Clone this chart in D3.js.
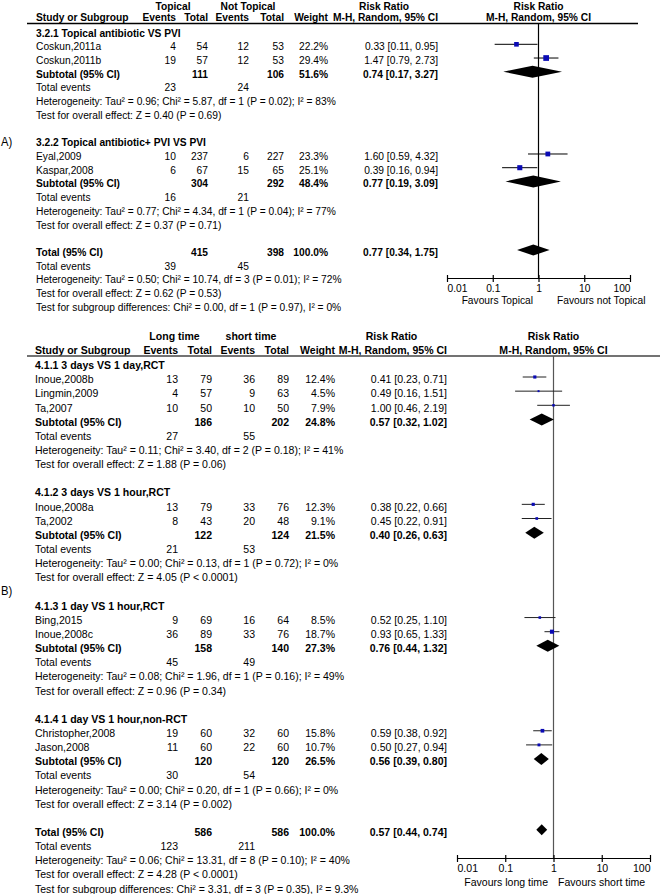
<!DOCTYPE html>
<html><head><meta charset="utf-8">
<script src="https://cdn.jsdelivr.net/npm/d3@7"></script>
<style>
body{margin:0;background:#fff}
svg{display:block}
text{font-family:"Liberation Sans", Arial, Helvetica, sans-serif;}
</style>
</head><body>
<svg id="c" width="660" height="894"></svg>
<script>
// ---------------- DATA ----------------
const tickValues = [0.01, 0.1, 1, 10, 100];
const tickLabels = ["0.01", "0.1", "1", "10", "100"];

// Panel A
const headersA = ["Topical", "Not Topical"];
const favoursA = ["Favours Topical", "Favours not Topical"];
const groupsA = ["3.2.1 Topical antibiotic VS PVI", "3.2.2 Topical antibiotic+ PVI VS PVI"];
const studiesA = [
  {g:0, name:"Coskun,2011a", e1:4,  n1:54,  e2:12, n2:53,  w:22.2, rr:0.33, lo:0.11, hi:0.95},
  {g:0, name:"Coskun,2011b", e1:19, n1:57,  e2:12, n2:53,  w:29.4, rr:1.47, lo:0.79, hi:2.73},
  {g:1, name:"Eyal,2009",    e1:10, n1:237, e2:6,  n2:227, w:23.3, rr:1.60, lo:0.59, hi:4.32},
  {g:1, name:"Kaspar,2008",  e1:6,  n1:67,  e2:15, n2:65,  w:25.1, rr:0.39, lo:0.16, hi:0.94}
];
const subtotalsA = [
  {n1:111, n2:106, w:51.6, rr:0.74, lo:0.17, hi:3.27, ev1:23, ev2:24,
   het:"Tau² = 0.96; Chi² = 5.87, df = 1 (P = 0.02); I² = 83%", z:"Z = 0.40 (P = 0.69)"},
  {n1:304, n2:292, w:48.4, rr:0.77, lo:0.19, hi:3.09, ev1:16, ev2:21,
   het:"Tau² = 0.77; Chi² = 4.34, df = 1 (P = 0.04); I² = 77%", z:"Z = 0.37 (P = 0.71)"}
];
const totalA = {n1:415, n2:398, w:100.0, rr:0.77, lo:0.34, hi:1.75, ev1:39, ev2:45,
  het:"Tau² = 0.50; Chi² = 10.74, df = 3 (P = 0.01); I² = 72%", z:"Z = 0.62 (P = 0.53)",
  sub:"Chi² = 0.00, df = 1 (P = 0.97), I² = 0%"};

// Panel B
const headersB = ["Long time", "short time"];
const favoursB = ["Favours long time", "Favours short time"];
const groupsB = ["4.1.1 3 days VS 1 day,RCT", "4.1.2 3 days VS 1 hour,RCT", "4.1.3 1 day VS 1 hour,RCT", "4.1.4 1 day VS 1 hour,non-RCT"];
const studiesB = [
  {g:0, name:"Inoue,2008b",      e1:13, n1:79, e2:36, n2:89, w:12.4, rr:0.41, lo:0.23, hi:0.71},
  {g:0, name:"Lingmin,2009",     e1:4,  n1:57, e2:9,  n2:63, w:4.5,  rr:0.49, lo:0.16, hi:1.51},
  {g:0, name:"Ta,2007",          e1:10, n1:50, e2:10, n2:50, w:7.9,  rr:1.00, lo:0.46, hi:2.19},
  {g:1, name:"Inoue,2008a",      e1:13, n1:79, e2:33, n2:76, w:12.3, rr:0.38, lo:0.22, hi:0.66},
  {g:1, name:"Ta,2002",          e1:8,  n1:43, e2:20, n2:48, w:9.1,  rr:0.45, lo:0.22, hi:0.91},
  {g:2, name:"Bing,2015",        e1:9,  n1:69, e2:16, n2:64, w:8.5,  rr:0.52, lo:0.25, hi:1.10},
  {g:2, name:"Inoue,2008c",      e1:36, n1:89, e2:33, n2:76, w:18.7, rr:0.93, lo:0.65, hi:1.33},
  {g:3, name:"Christopher,2008", e1:19, n1:60, e2:32, n2:60, w:15.8, rr:0.59, lo:0.38, hi:0.92},
  {g:3, name:"Jason,2008",       e1:11, n1:60, e2:22, n2:60, w:10.7, rr:0.50, lo:0.27, hi:0.94}
];
const subtotalsB = [
  {n1:186, n2:202, w:24.8, rr:0.57, lo:0.32, hi:1.02, ev1:27, ev2:55,
   het:"Tau² = 0.11; Chi² = 3.40, df = 2 (P = 0.18); I² = 41%", z:"Z = 1.88 (P = 0.06)"},
  {n1:122, n2:124, w:21.5, rr:0.40, lo:0.26, hi:0.63, ev1:21, ev2:53,
   het:"Tau² = 0.00; Chi² = 0.13, df = 1 (P = 0.72); I² = 0%", z:"Z = 4.05 (P < 0.0001)"},
  {n1:158, n2:140, w:27.3, rr:0.76, lo:0.44, hi:1.32, ev1:45, ev2:49,
   het:"Tau² = 0.08; Chi² = 1.96, df = 1 (P = 0.16); I² = 49%", z:"Z = 0.96 (P = 0.34)"},
  {n1:120, n2:120, w:26.5, rr:0.56, lo:0.39, hi:0.80, ev1:30, ev2:54,
   het:"Tau² = 0.00; Chi² = 0.20, df = 1 (P = 0.66); I² = 0%", z:"Z = 3.14 (P = 0.002)"}
];
const totalB = {n1:586, n2:586, w:100.0, rr:0.57, lo:0.44, hi:0.74, ev1:123, ev2:211,
  het:"Tau² = 0.06; Chi² = 13.31, df = 8 (P = 0.10); I² = 40%", z:"Z = 4.28 (P < 0.0001)",
  sub:"Chi² = 3.31, df = 3 (P = 0.35), I² = 9.3%"};

// ---------------- LAYOUT ----------------
const cfgA = {label:"A)", labelRow:8, y0:30.6, pitch:13.71, base:6.0, fs:11, sx:0.93,
  xName:36, xE1:176, xN1:208, xE2:249, xN2:284, xW:328, xRR:438, rrH1:384,
  hdr1:[173, 248], h1y:9.6, h2y:20.6, lineX:[27,638], lineY:23.5,
  plot:[447,630], axisY:278, tickDy:14, favY:304, favEnd:533, favStart:557,
  lineColor:"#000", nullColor:"#000", ciColor:"#000"};
const cfgB = {label:"B)", labelRow:16, y0:362.85, pitch:14.15, base:6.2, fs:11.35, sx:0.93,
  xName:35, xE1:178, xN1:212, xE2:255, xN2:289, xW:335, xRR:447, rrH1:391.5,
  hdr1:[174.5, 251], h1y:340, h2y:353.5, lineX:[27,660], lineY:356,
  plot:[457,650], axisY:858, tickDy:14, favY:886, favEnd:548, favStart:558,
  lineColor:"#444", nullColor:"#555", ciColor:"#222"};

const svg = d3.select("#c");
const FONT = '"Liberation Sans", Arial, Helvetica, sans-serif';
const SQ = "#0a0ab4";

function T(g, x, y, s, o) {
  return g.append("text")
    .attr("transform", `translate(${x},${y}) scale(${o.sx},1)`)
    .attr("text-anchor", o.anchor || "start")
    .attr("font-size", o.fs)
    .attr("font-weight", o.bold ? "bold" : "normal")
    .attr("fill", "#000")
    .text(s);
}
const rrText = d => `${d.rr.toFixed(2)} [${d.lo.toFixed(2)}, ${d.hi.toFixed(2)}]`;
const pct = w => w.toFixed(1) + "%";

function buildRows(groups, studies, subs, total) {
  const rows = [];
  groups.forEach((gn, gi) => {
    rows.push({type:"group", text:gn});
    studies.filter(s => s.g === gi).forEach(s => rows.push({type:"study", d:s}));
    rows.push({type:"subtotal", d:subs[gi]});
    rows.push({type:"events", d:subs[gi]});
    rows.push({type:"het", d:subs[gi]});
    rows.push({type:"z", d:subs[gi]});
    rows.push({type:"blank"});
  });
  rows.push({type:"total", d:total});
  rows.push({type:"events", d:total});
  rows.push({type:"het", d:total});
  rows.push({type:"z", d:total});
  rows.push({type:"sub", d:total});
  return rows;
}

function drawPanel(c, headers, favours, groups, studies, subs, total) {
  const g = svg.append("g");
  const x = d3.scaleLog().domain([0.01, 100]).range(c.plot);
  const size = d3.scaleLinear().domain([0, 30]).range([1.3, 5.8]);
  const rows = buildRows(groups, studies, subs, total);
  const ry = i => c.y0 + c.pitch * i;
  const by = i => ry(i) + c.base;
  const o = {fs:c.fs, sx:c.sx};
  const ob = {fs:c.fs, sx:c.sx, bold:true};

  // headers
  T(g, c.hdr1[0], c.h1y, headers[0], {...ob, anchor:"middle"});
  T(g, c.hdr1[1], c.h1y, headers[1], {...ob, anchor:"middle"});
  T(g, c.rrH1, c.h1y, "Risk Ratio", {...ob, anchor:"middle"});
  T(g, x(1), c.h1y, "Risk Ratio", {...ob, anchor:"middle"});
  T(g, c.xName, c.h2y, "Study or Subgroup", ob);
  T(g, c.xE1, c.h2y, "Events", {...ob, anchor:"end"});
  T(g, c.xN1, c.h2y, "Total", {...ob, anchor:"end"});
  T(g, c.xE2, c.h2y, "Events", {...ob, anchor:"end"});
  T(g, c.xN2, c.h2y, "Total", {...ob, anchor:"end"});
  T(g, c.xW, c.h2y, "Weight", {...ob, anchor:"end"});
  T(g, c.xRR, c.h2y, "M-H, Random, 95% CI", {...ob, anchor:"end"});
  T(g, x(1), c.h2y, "M-H, Random, 95% CI", {...ob, anchor:"middle"});

  g.append("line").attr("x1", c.lineX[0]).attr("x2", c.lineX[1])
    .attr("y1", c.lineY).attr("y2", c.lineY)
    .attr("stroke", c.lineColor).attr("stroke-width", 1.6);
  g.append("line").attr("x1", x(1)).attr("x2", x(1))
    .attr("y1", c.lineY).attr("y2", c.axisY)
    .attr("stroke", c.nullColor).attr("stroke-width", 1.2);

  // panel label
  T(g, 1, by(c.labelRow), c.label, {fs:12.5, sx:0.9});

  rows.forEach((r, i) => {
    const y = ry(i), b = by(i), d = r.d;
    if (r.type === "group") {
      T(g, c.xName, b, r.text, ob);
    } else if (r.type === "study") {
      T(g, c.xName, b, d.name, o);
      T(g, c.xE1, b, d.e1, {...o, anchor:"end"});
      T(g, c.xN1, b, d.n1, {...o, anchor:"end"});
      T(g, c.xE2, b, d.e2, {...o, anchor:"end"});
      T(g, c.xN2, b, d.n2, {...o, anchor:"end"});
      T(g, c.xW, b, pct(d.w), {...o, anchor:"end"});
      T(g, c.xRR, b, rrText(d), {...o, anchor:"end"});
      g.append("line").attr("x1", x(d.lo)).attr("x2", x(d.hi))
        .attr("y1", y).attr("y2", y).attr("stroke", c.ciColor).attr("stroke-width", 1);
      const s = size(d.w);
      g.append("rect").attr("x", x(d.rr) - s / 2).attr("y", y - s / 2)
        .attr("width", s).attr("height", s).attr("fill", SQ);
    } else if (r.type === "subtotal" || r.type === "total") {
      T(g, c.xName, b, r.type === "subtotal" ? "Subtotal (95% CI)" : "Total (95% CI)", ob);
      T(g, c.xN1, b, d.n1, {...ob, anchor:"end"});
      T(g, c.xN2, b, d.n2, {...ob, anchor:"end"});
      T(g, c.xW, b, pct(d.w), {...ob, anchor:"end"});
      T(g, c.xRR, b, rrText(d), {...ob, anchor:"end"});
      const h = r.type === "subtotal" ? 6 : 5.5;
      g.append("polygon")
        .attr("points", [[x(d.lo), y], [x(d.rr), y - h], [x(d.hi), y], [x(d.rr), y + h]].map(p => p.join(",")).join(" "))
        .attr("fill", "#000");
    } else if (r.type === "events") {
      T(g, c.xName, b, "Total events", o);
      T(g, c.xE1, b, d.ev1, {...o, anchor:"end"});
      T(g, c.xE2, b, d.ev2, {...o, anchor:"end"});
    } else if (r.type === "het") {
      T(g, c.xName, b, "Heterogeneity: " + d.het, o);
    } else if (r.type === "z") {
      T(g, c.xName, b, "Test for overall effect: " + d.z, o);
    } else if (r.type === "sub") {
      T(g, c.xName, b, "Test for subgroup differences: " + d.sub, o);
    }
  });

  // axis
  const axis = d3.axisBottom(x).tickValues(tickValues)
    .tickFormat((v, i) => tickLabels[i]).tickSize(4).tickSizeOuter(0);
  const ag = g.append("g").attr("transform", `translate(0,${c.axisY})`).call(axis);
  ag.attr("font-family", FONT).attr("font-size", c.fs);
  ag.select(".domain").attr("stroke", "#000").attr("stroke-width", 1.2);
  ag.selectAll(".tick line").attr("y1", -3).attr("stroke", "#000").attr("stroke-width", 1.2);
  ag.selectAll(".tick text")
    .attr("y", null).attr("dy", null)
    .attr("transform", `translate(0,${c.tickDy}) scale(${c.sx},1)`)
    .attr("fill", "#000")
    .attr("text-anchor", (v, i) => i === 0 ? "start" : (i === tickValues.length - 1 ? "end" : "middle"));

  T(g, c.favEnd, c.favY, favours[0], {...o, anchor:"end"});
  T(g, c.favStart, c.favY, favours[1], o);
}

drawPanel(cfgA, headersA, favoursA, groupsA, studiesA, subtotalsA, totalA);
drawPanel(cfgB, headersB, favoursB, groupsB, studiesB, subtotalsB, totalB);
</script>
</body></html>
